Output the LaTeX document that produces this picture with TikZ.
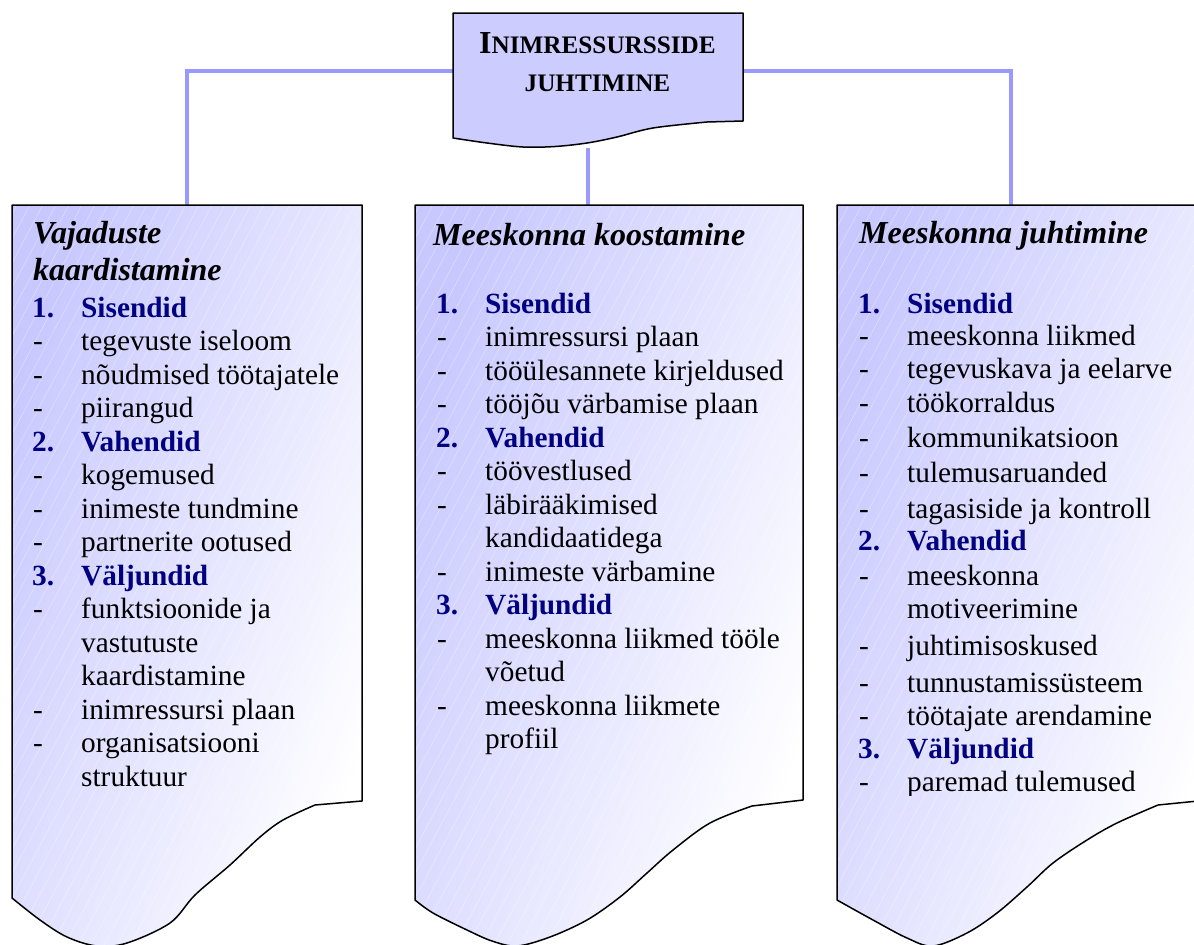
\documentclass[tikz,border=0pt]{standalone}
\usepackage{fontspec}
\setmainfont{Liberation Serif}
\definecolor{lav}{RGB}{204,204,255}
\definecolor{lavbox}{RGB}{200,200,255}
\definecolor{conncol}{RGB}{153,153,255}
\definecolor{hdblue}{RGB}{0,0,128}
\tikzset{
  pathA/.style={insert path={(12,205) -- (362,205) -- (362,801) -- plot[smooth, tension=0.55] coordinates {(315,805) (283,820) (260,837) (230,865) (195,895) (170,923) (127,943) (97,946) (67,937) (40,920) (12,898)} -- cycle}},
  pathB/.style={insert path={(415,205) -- (803,205) -- (803,800) -- plot[smooth, tension=0.55] coordinates {(752,806) (710,823) (673,850) (647,873) (620,897) (587,920) (550,937) (517,946) (492,941) (467,930) (433,913) (415,900)} -- cycle}},
  pathC/.style={insert path={(837,205) -- (1208,205) -- (1208,800) -- plot[smooth, tension=0.55] coordinates {(1158,805) (1117,823) (1087,840) (1053,863) (1027,887) (997,913) (967,933) (933,946) (907,938) (873,920) (837,900)} -- cycle}},
  pathT/.style={insert path={(453,13) -- (743,13) -- (743,121) -- plot[smooth, tension=0.55] coordinates {(707,122) (653,128) (617,137) (587,143) (555,146.5) (523,147) (487,143) (453,138)} -- cycle}},
  connline/.style={draw=conncol, line width=3.5pt},
  docshade/.style={top color=lavbox, bottom color=white, shading angle=70},
  docborder/.style={draw=black, line width=1.5pt, line join=round},
  hatch/.style={draw=white, opacity=0.35, line width=0.6pt},
  area/.style={inner sep=0pt, outer sep=0pt, draw=none},
  body/.style={anchor=base west, inner sep=0pt, font=\fontsize{29.3}{33.5}\selectfont},
  hd/.style={anchor=base west, inner sep=0pt, font=\fontsize{29.3}{33.5}\selectfont\bfseries, text=hdblue},
  ttl/.style={anchor=base west, inner sep=0pt, font=\fontsize{32}{37}\selectfont\bfseries\itshape},
}
\begin{document}
\begin{tikzpicture}[x=1pt, y=-1pt]
\clip (0,0) rectangle (1194,945);

% naming nodes
\node[area, minimum width=290pt, minimum height=116pt] (top) at (598,71) {};
\node[area, minimum width=350pt, minimum height=596pt] (boxA) at (187,503) {};
\node[area, minimum width=388pt, minimum height=595pt] (boxB) at (609,502.5) {};
\node[area, minimum width=371pt, minimum height=595pt] (boxC) at (1022.5,502.5) {};
\coordinate (topb) at (588,148);

% connectors
\draw[connline] (top.west) -| (boxA.north);
\draw[connline] (top.east) -| ([xshift=-11.5pt]boxC.north);
\draw[connline] (topb) -- (boxB.north -| topb);

% document boxes
\path[docshade, pathA];
\path[docshade, pathB];
\path[docshade, pathC];
\begin{scope}
  \clip[pathA, pathB, pathC];
  \foreach \k in {-520,-507,...,1200} \draw[hatch] (\k,945) -- (\k+503,0);
\end{scope}
\path[docborder, pathA];
\path[docborder, pathB];
\path[docborder, pathC];

% top box
\path[fill=lav, docborder, pathT];
\node[anchor=base, inner sep=0pt, font=\bfseries] (t1) at (597.5,53) {\fontsize{32}{36}\selectfont I\fontsize{25.2}{30}\selectfont NIMRESSURSSIDE};
\node[anchor=base, inner sep=0pt, font=\bfseries] (t2) at (597.5,91) {\fontsize{25.2}{30}\selectfont JUHTIMINE};

% left box text
\node[ttl] (Ati1) at (33,243) {Vajaduste};
\node[ttl] (Ati2) at (33,280) {kaardistamine};
\foreach \y/\m/\t [count=\i] in {317/1./Sisendid, 451/2./Vahendid, 585/3./Väljundid} {
  \node[hd] (Ahm\i) at (32,\y) {\m};
  \node[hd] (Aht\i) at (81,\y) {\t};
}
\foreach \y/\m/\t [count=\i] in {350.5/-/tegevuste iseloom, 384/-/nõudmised töötajatele, 417.5/-/piirangud, 484.5/-/kogemused, 518/-/inimeste tundmine, 551.5/-/partnerite ootused, 618.5/-/funktsioonide ja, 652//vastutuste, 685.5//kaardistamine, 719/-/inimressursi plaan, 752.5/-/organisatsiooni, 786//struktuur} {
  \node[body] (Aim\i) at (33,\y) {\m};
  \node[body] (Ait\i) at (81,\y) {\t};
}

% middle box text
\node[ttl] (Bti) at (433,245) {Meeskonna koostamine};
\foreach \y/\m/\t [count=\i] in {313/1./Sisendid, 447/2./Vahendid, 614.5/3./Väljundid} {
  \node[hd] (Bhm\i) at (436,\y) {\m};
  \node[hd] (Bht\i) at (485,\y) {\t};
}
\foreach \y/\m/\t [count=\i] in {346.5/-/inimressursi plaan, 380/-/tööülesannete kirjeldused, 413.5/-/tööjõu värbamise plaan, 480.5/-/töövestlused, 514/-/läbirääkimised, 547.5//kandidaatidega, 581/-/inimeste värbamine, 648/-/meeskonna liikmed tööle, 681.5//võetud, 715/-/meeskonna liikmete, 748.5//profiil} {
  \node[body] (Bim\i) at (437,\y) {\m};
  \node[body] (Bit\i) at (485,\y) {\t};
}

% right box text
\node[ttl] (Cti) at (859,243) {Meeskonna juhtimine};
\foreach \y/\m/\t [count=\i] in {313/1./Sisendid, 550/2./Vahendid, 758/3./Väljundid} {
  \node[hd] (Chm\i) at (858,\y) {\m};
  \node[hd] (Cht\i) at (907,\y) {\t};
}
\foreach \y/\m/\t [count=\i] in {345/-/meeskonna liikmed, 378/-/tegevuskava ja eelarve, 412/-/töökorraldus, 447/-/kommunikatsioon, 482/-/tulemusaruanded, 518/-/tagasiside ja kontroll, 585/-/meeskonna, 618//motiveerimine, 655/-/juhtimisoskused, 692/-/tunnustamissüsteem, 725/-/töötajate arendamine} {
  \node[body] (Cim\i) at (859,\y) {\m};
  \node[body] (Cit\i) at (907,\y) {\t};
}
\begin{scope}
  \clip (830,700) rectangle (1194,795);
  \node[body] (Cimz) at (859,791) {-};
  \node[body] (Citz) at (907,791) {paremad tulemused};
\end{scope}
\end{tikzpicture}
\end{document}
